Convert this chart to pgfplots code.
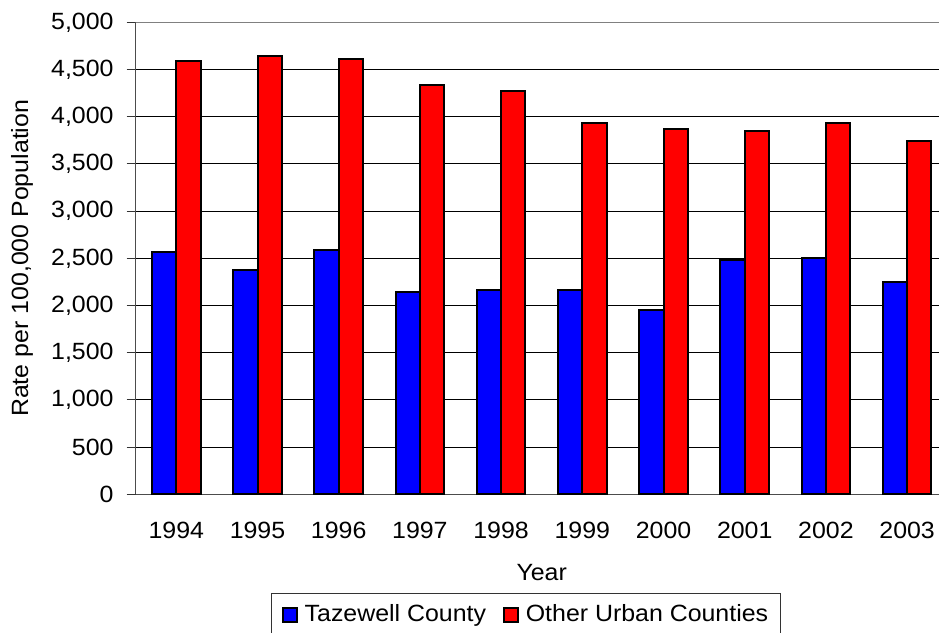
\documentclass[border=0pt]{standalone}
\usepackage{fontspec}
\setmainfont{Liberation Sans}[FakeStretch=1.06]
\usepackage{pgfplots}
\pgfplotsset{compat=1.18}

\definecolor{tazblue}{RGB}{0,0,255}
\definecolor{urbred}{RGB}{255,0,0}
\definecolor{framegray}{RGB}{128,128,128}

\begin{document}
\fontsize{23.5bp}{28bp}\selectfont
\begin{tikzpicture}
\path[use as bounding box] (0,0) rectangle (939bp,633bp);
\begin{axis}[
  at={(135.7bp,138.7bp)}, anchor=south west,
  scale only axis,
  width=812bp, height=472bp,
  ybar=0pt, bar width=24.3bp,
  xmin=-0.5, xmax=9.5,
  ymin=0, ymax=5000,
  xtick={0,...,9},
  xticklabels={1994,1995,1996,1997,1998,1999,2000,2001,2002,2003},
  x tick style={draw=none},
  extra x ticks={-0.5,0.5,1.5,2.5,3.5,4.5,5.5,6.5,7.5,8.5},
  extra x tick labels={},
  extra x tick style={tick style={draw=black!80,line width=1bp}, major tick length=9bp, grid=none},
  ytick={0,500,...,5000},
  y tick style={draw=black!80,line width=1bp},
  tick align=outside,
  major tick length=9bp,
  ymajorgrids,
  major grid style={black, line width=1bp},
  axis x line*=bottom, axis y line*=left,
  x axis line style={draw=black!70, line width=1.2bp, -},
  y axis line style={draw=black!70, line width=1.2bp, -},
  /pgf/number format/assume math mode=true,
  /pgf/number format/.cd, 1000 sep={,}, /pgfplots/.cd,
  yticklabel style={anchor=east, inner sep=0pt, xshift=-13bp},
  xticklabel style={anchor=north, inner sep=0pt, yshift=-19bp},
  every axis x label/.style={at={(axis description cs:0.5,0)}, anchor=center, yshift=-78.7bp},
  every axis y label/.style={at={(axis description cs:0,0.5)}, rotate=90, anchor=center, yshift=113.7bp},
  xlabel={Year},
  ylabel={Rate per 100,000 Population},
  legend columns=2,
  legend style={
    at={(rel axis cs:0.4807,-0.209)}, anchor=north,
    draw=black!80, line width=1bp,
    inner xsep=10bp, inner ysep=9bp,
    /tikz/every odd column/.append style={column sep=5bp},
    /tikz/every even column/.append style={column sep=15bp},
  },
  legend image code/.code={\draw[#1, draw=black, line width=1.8bp] (0bp,-7bp) rectangle (14bp,7bp);},
]
\draw[framegray, line width=1.5bp] (rel axis cs:0,1) -- (rel axis cs:1,1);

% Tazewell County
\addplot[fill=tazblue, draw=black, line width=2bp] coordinates {
  (0,2564) (1,2373) (2,2588) (3,2140) (4,2161)
  (5,2161) (6,1954) (7,2482) (8,2500) (9,2246)};
% Other Urban Counties
\addplot[fill=urbred, draw=black, line width=2bp] coordinates {
  (0,4585) (1,4648) (2,4606) (3,4331) (4,4270)
  (5,3933) (6,3873) (7,3852) (8,3933) (9,3746)};
\legend{Tazewell County, Other Urban Counties}
\end{axis}
\end{tikzpicture}
\end{document}
